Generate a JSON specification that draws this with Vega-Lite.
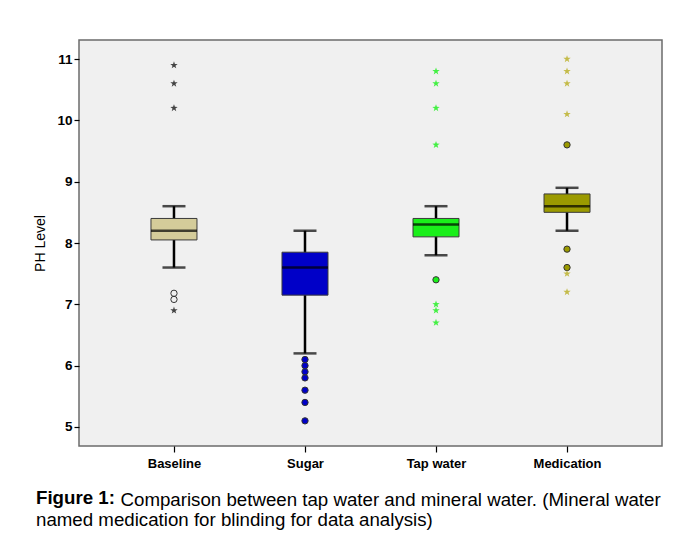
{
  "$schema": "https://vega.github.io/schema/vega-lite/v6.json",
  "width": 583,
  "height": 406,
  "autosize": {"type": "none"},
  "padding": {"left": 79, "top": 40, "right": 21, "bottom": 100},
  "background": "white",
  "config": {
    "font": "Liberation Sans",
    "view": {"fill": "#f0f0f0", "stroke": "#6b6b6b", "strokeWidth": 1.5}
  },
  "title": {
    "text": "Figure 1:",
    "subtitle": "named medication for blinding for data analysis)",
    "orient": "bottom",
    "anchor": "start",
    "frame": "bounds",
    "font": "Liberation Sans",
    "fontSize": 18.7,
    "fontWeight": "bold",
    "color": "black",
    "subtitleFont": "Liberation Sans",
    "subtitleFontSize": 18.7,
    "subtitleFontWeight": "normal",
    "subtitleColor": "black",
    "subtitlePadding": 4,
    "offset": -20,
    "dx": 2
  },
  "datasets": {
    "boxes": [
      {"group": "Baseline", "lower": 7.6, "q1": 8.05, "median": 8.2, "q3": 8.4, "upper": 8.6},
      {"group": "Sugar", "lower": 6.2, "q1": 7.15, "median": 7.6, "q3": 7.85, "upper": 8.2},
      {"group": "Tap water", "lower": 7.8, "q1": 8.1, "median": 8.3, "q3": 8.4, "upper": 8.6},
      {"group": "Medication", "lower": 8.2, "q1": 8.5, "median": 8.6, "q3": 8.8, "upper": 8.9}
    ],
    "outliers": [
      {"group": "Baseline", "value": 10.9, "kind": "star"},
      {"group": "Baseline", "value": 10.6, "kind": "star"},
      {"group": "Baseline", "value": 10.2, "kind": "star"},
      {"group": "Baseline", "value": 7.18, "kind": "circle"},
      {"group": "Baseline", "value": 7.08, "kind": "circle"},
      {"group": "Baseline", "value": 6.9, "kind": "star"},
      {"group": "Sugar", "value": 6.1, "kind": "circle"},
      {"group": "Sugar", "value": 6.0, "kind": "circle"},
      {"group": "Sugar", "value": 5.9, "kind": "circle"},
      {"group": "Sugar", "value": 5.8, "kind": "circle"},
      {"group": "Sugar", "value": 5.6, "kind": "circle"},
      {"group": "Sugar", "value": 5.4, "kind": "circle"},
      {"group": "Sugar", "value": 5.1, "kind": "circle"},
      {"group": "Tap water", "value": 10.8, "kind": "star"},
      {"group": "Tap water", "value": 10.6, "kind": "star"},
      {"group": "Tap water", "value": 10.2, "kind": "star"},
      {"group": "Tap water", "value": 9.6, "kind": "star"},
      {"group": "Tap water", "value": 7.4, "kind": "circle"},
      {"group": "Tap water", "value": 7.0, "kind": "star"},
      {"group": "Tap water", "value": 6.9, "kind": "star"},
      {"group": "Tap water", "value": 6.7, "kind": "star"},
      {"group": "Medication", "value": 11.0, "kind": "star"},
      {"group": "Medication", "value": 10.8, "kind": "star"},
      {"group": "Medication", "value": 10.6, "kind": "star"},
      {"group": "Medication", "value": 10.1, "kind": "star"},
      {"group": "Medication", "value": 9.6, "kind": "circle"},
      {"group": "Medication", "value": 7.9, "kind": "circle"},
      {"group": "Medication", "value": 7.6, "kind": "circle"},
      {"group": "Medication", "value": 7.5, "kind": "star"},
      {"group": "Medication", "value": 7.2, "kind": "star"}
    ]
  },
  "resolve": {"scale": {"fill": "independent"}},
  "layer": [
    {
      "data": {"name": "boxes"},
      "mark": {"type": "rule", "color": "black", "strokeWidth": 2.5},
      "encoding": {
        "x": {
          "field": "group", "type": "nominal",
          "sort": ["Baseline", "Sugar", "Tap water", "Medication"],
          "scale": {"type": "point", "padding": 0.725},
          "axis": {
            "domain": false, "labelAngle": 0,
            "labelFont": "Liberation Sans", "labelFontSize": 13, "labelFontWeight": "bold", "labelColor": "black",
            "labelPadding": 5,
            "tickColor": "black", "tickSize": 6, "tickWidth": 1.2,
            "title": "Comparison between tap water and mineral water. (Mineral water",
            "titleFont": "Liberation Sans", "titleFontSize": 18.7, "titleFontWeight": "normal", "titleColor": "black",
            "titleAnchor": "start", "titleAlign": "left", "titleBaseline": "alphabetic",
            "titleX": 41, "titleY": 59
          }
        },
        "y": {
          "field": "lower", "type": "quantitative",
          "scale": {"domain": [4.69, 11.31], "nice": false, "zero": false},
          "axis": {
            "values": [5, 6, 7, 8, 9, 10, 11], "format": "d", "grid": false, "domain": false,
            "labelFont": "Liberation Sans", "labelFontSize": 13.5, "labelFontWeight": "bold", "labelColor": "black",
            "labelPadding": 2,
            "tickColor": "black", "tickSize": 5, "tickWidth": 1.2,
            "title": "PH Level", "titleFont": "Liberation Sans", "titleFontSize": 14, "titleFontWeight": "normal",
            "titleColor": "black", "titlePadding": 9
          }
        },
        "y2": {"field": "upper"}
      }
    },
    {
      "data": {"name": "boxes"},
      "mark": {"type": "tick", "color": "black", "size": 23, "thickness": 2.5},
      "encoding": {
        "x": {"field": "group", "type": "nominal", "sort": ["Baseline", "Sugar", "Tap water", "Medication"]},
        "y": {"field": "lower", "type": "quantitative"}
      }
    },
    {
      "data": {"name": "boxes"},
      "mark": {"type": "tick", "color": "black", "size": 23, "thickness": 2.5},
      "encoding": {
        "x": {"field": "group", "type": "nominal", "sort": ["Baseline", "Sugar", "Tap water", "Medication"]},
        "y": {"field": "upper", "type": "quantitative"}
      }
    },
    {
      "data": {"name": "boxes"},
      "mark": {"type": "bar", "size": 46, "stroke": "#3a3a3a", "strokeWidth": 1},
      "encoding": {
        "x": {"field": "group", "type": "nominal", "sort": ["Baseline", "Sugar", "Tap water", "Medication"]},
        "y": {"field": "q1", "type": "quantitative"},
        "y2": {"field": "q3"},
        "fill": {
          "field": "group", "type": "nominal", "legend": null,
          "scale": {"domain": ["Baseline", "Sugar", "Tap water", "Medication"], "range": ["#d4cc9a", "#0000c8", "#1aef1a", "#9b9a00"]}
        }
      }
    },
    {
      "data": {"name": "boxes"},
      "mark": {"type": "tick", "color": "black", "size": 46, "thickness": 2.5},
      "encoding": {
        "x": {"field": "group", "type": "nominal", "sort": ["Baseline", "Sugar", "Tap water", "Medication"]},
        "y": {"field": "median", "type": "quantitative"}
      }
    },
    {
      "data": {"name": "outliers"},
      "transform": [{"filter": "datum.kind === 'circle'"}],
      "mark": {"type": "point", "shape": "circle", "size": 40, "filled": true, "stroke": "#333333", "strokeWidth": 1, "opacity": 1},
      "encoding": {
        "x": {"field": "group", "type": "nominal", "sort": ["Baseline", "Sugar", "Tap water", "Medication"]},
        "y": {"field": "value", "type": "quantitative"},
        "fill": {
          "field": "group", "type": "nominal", "legend": null,
          "scale": {"domain": ["Baseline", "Sugar", "Tap water", "Medication"], "range": ["transparent", "#0000c8", "#1aef1a", "#9b9a00"]}
        }
      }
    },
    {
      "data": {"name": "outliers"},
      "transform": [{"filter": "datum.kind === 'star'"}],
      "mark": {"type": "point", "shape": "M0,-1L0.235,-0.324L0.951,-0.309L0.380,0.124L0.588,0.809L0,0.4L-0.588,0.809L-0.380,0.124L-0.951,-0.309L-0.235,-0.324Z", "size": 60, "filled": true, "opacity": 1, "strokeWidth": 0},
      "encoding": {
        "x": {"field": "group", "type": "nominal", "sort": ["Baseline", "Sugar", "Tap water", "Medication"]},
        "y": {"field": "value", "type": "quantitative"},
        "fill": {
          "field": "group", "type": "nominal", "legend": null,
          "scale": {"domain": ["Baseline", "Sugar", "Tap water", "Medication"], "range": ["#444444", "#0000c8", "#44f044", "#c4bb4a"]}
        }
      }
    }
  ]
}
